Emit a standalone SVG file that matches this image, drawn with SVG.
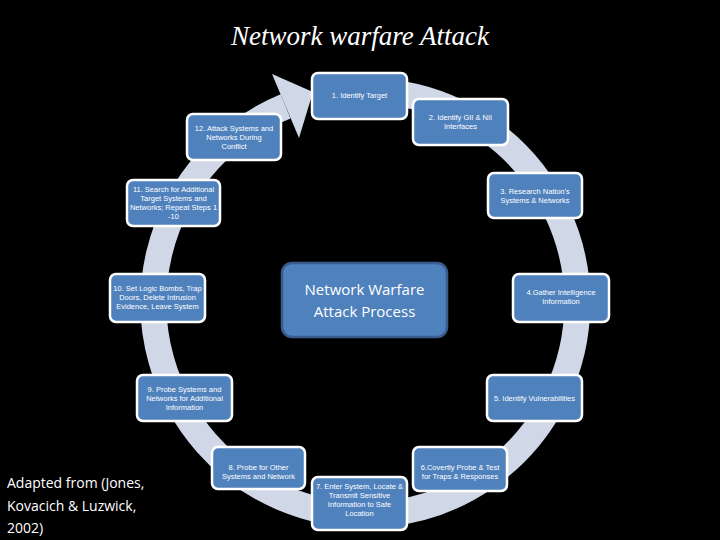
<svg xmlns="http://www.w3.org/2000/svg" width="720" height="540" viewBox="0 0 720 540">
<style>
.b{fill:#4f81bd;stroke:#fff;stroke-width:2.5}
.t{font-family:"Liberation Sans",Arial,sans-serif;font-size:7.5px;fill:#fff;text-anchor:middle}
</style>
<rect width="720" height="540" fill="#000"/>
<text x="360" y="45" font-family="Liberation Serif,serif" font-style="italic" font-size="27" fill="#fff" text-anchor="middle">Network warfare Attack</text>
<g id="connectors">
<path d="M402,94 A212,212 0 1 1 285.6,106.4" fill="none" stroke="#d0d8e8" stroke-width="26"/>
<polygon points="299,138 272,74 313,92" fill="#d0d8e8"/>
</g>
<g id="n1"><rect class="b" x="312" y="73" width="95" height="46" rx="6"/><text class="t" x="359.5" y="98">1. Identify Target</text></g>
<g id="n2"><rect class="b" x="413" y="99" width="95" height="46" rx="6"/><text class="t"><tspan x="460.5" y="120">2. Identify GII &amp; NII</tspan><tspan x="460.5" y="129">Interfaces</tspan></text></g>
<g id="n3"><rect class="b" x="488" y="173" width="94" height="45" rx="6"/><text class="t"><tspan x="535" y="194">3. Research Nation's</tspan><tspan x="535" y="203">Systems &amp; Networks</tspan></text></g>
<g id="n4"><rect class="b" x="513" y="274" width="96" height="48" rx="6"/><text class="t"><tspan x="561" y="295">4.Gather Intelligence</tspan><tspan x="561" y="304">Information</tspan></text></g>
<g id="n5"><rect class="b" x="487" y="375" width="95" height="46" rx="6"/><text class="t" x="534.5" y="401">5. Identify Vulnerabilities</text></g>
<g id="n6"><rect class="b" x="413" y="447" width="94" height="44" rx="6"/><text class="t"><tspan x="460" y="470">6.Covertly Probe &amp; Test</tspan><tspan x="460" y="479">for Traps &amp; Responses</tspan></text></g>
<g id="n7"><rect class="b" x="312" y="477" width="95" height="53" rx="6"/><text class="t"><tspan x="359.5" y="489">7. Enter System, Locate &amp;</tspan><tspan x="359.5" y="498">Transmit Sensitive</tspan><tspan x="359.5" y="507">Information to Safe</tspan><tspan x="359.5" y="516">Location</tspan></text></g>
<g id="n8"><rect class="b" x="212" y="447" width="93" height="42" rx="6"/><text class="t"><tspan x="258.5" y="470">8. Probe for Other</tspan><tspan x="258.5" y="479">Systems and Network</tspan></text></g>
<g id="n9"><rect class="b" x="137" y="375" width="95" height="46" rx="6"/><text class="t"><tspan x="184.5" y="392">9. Probe Systems and</tspan><tspan x="184.5" y="401">Networks for Additional</tspan><tspan x="184.5" y="410">Information</tspan></text></g>
<g id="n10"><rect class="b" x="110" y="274" width="95" height="48" rx="6"/><text class="t"><tspan x="157.5" y="291">10. Set Logic Bombs, Trap</tspan><tspan x="157.5" y="300">Doors,  Delete Intrusion</tspan><tspan x="157.5" y="309">Evidence, Leave System</tspan></text></g>
<g id="n11"><rect class="b" x="127" y="180" width="93" height="46" rx="6"/><text class="t"><tspan x="173.5" y="192">11. Search for Additional</tspan><tspan x="173.5" y="201">Target Systems and</tspan><tspan x="173.5" y="210">Networks; Repeat Steps 1</tspan><tspan x="173.5" y="219">-10</tspan></text></g>
<g id="n12"><rect class="b" x="187" y="114" width="94" height="46" rx="6"/><text class="t"><tspan x="234" y="131">12. Attack Systems and</tspan><tspan x="234" y="140">Networks During</tspan><tspan x="234" y="149">Conflict</tspan></text></g>
<g id="center"><rect x="282" y="263" width="165" height="74" rx="10" fill="#4f81bd" stroke="#385d8a" stroke-width="2.5"/><text font-family="'Open Sans','Liberation Sans',sans-serif" font-size="15" fill="#fff" text-anchor="middle"><tspan x="364.5" y="295">Network Warfare</tspan><tspan x="364.5" y="317">Attack Process</tspan></text></g>
<text font-family="'Open Sans','Liberation Sans',sans-serif" font-size="14" fill="#fff"><tspan x="7" y="488">Adapted from (Jones,</tspan><tspan x="7" y="511">Kovacich &amp; Luzwick,</tspan><tspan x="7" y="533">2002)</tspan></text>
</svg>
